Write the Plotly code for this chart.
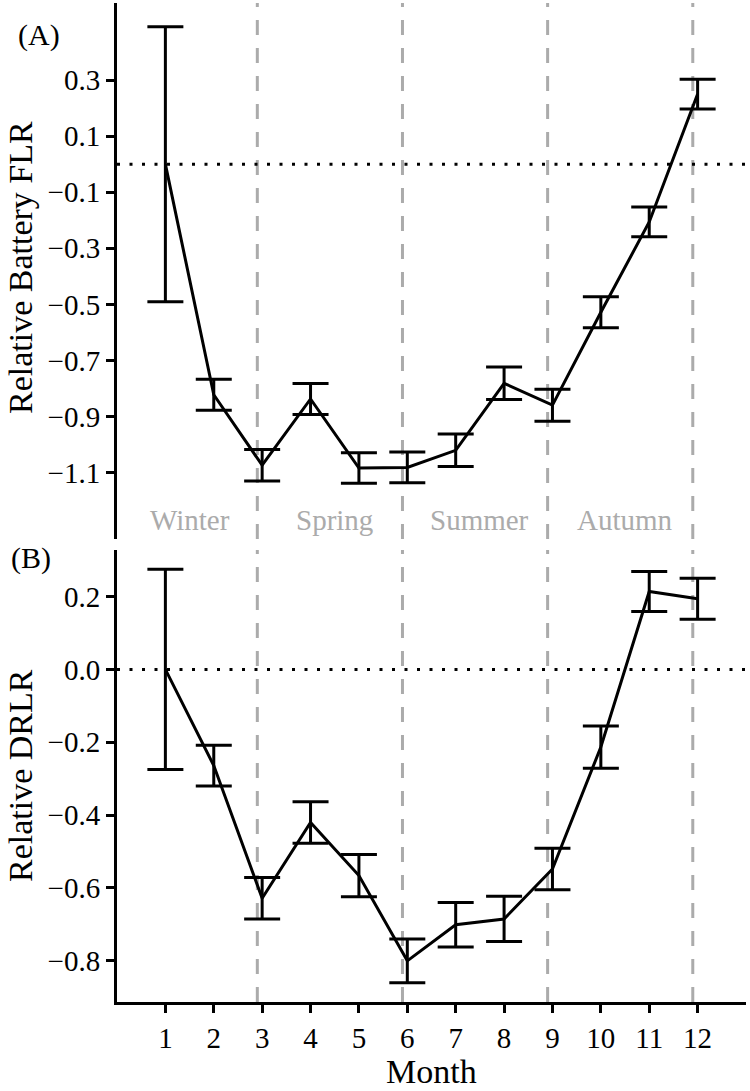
import plotly.graph_objects as go

months = list(range(1, 13))
flr_mean = [0.0, -0.822, -1.073, -0.837, -1.083, -1.081, -1.020, -0.781, -0.859, -0.528, -0.206, 0.250]
flr_err = [0.49, 0.055, 0.056, 0.055, 0.054, 0.055, 0.058, 0.058, 0.057, 0.055, 0.053, 0.053]
drlr_mean = [0.0, -0.264, -0.628, -0.420, -0.566, -0.800, -0.701, -0.685, -0.548, -0.213, 0.214, 0.194]
drlr_err = [0.275, 0.056, 0.057, 0.057, 0.058, 0.060, 0.061, 0.062, 0.057, 0.058, 0.055, 0.056]

flr_ticks = [0.3, 0.1, -0.1, -0.3, -0.5, -0.7, -0.9, -1.1]
drlr_ticks = [0.2, 0.0, -0.2, -0.4, -0.6, -0.8]
season_breaks = [2.9, 5.9, 8.9, 11.9]
season_names = ["Winter", "Spring", "Summer", "Autumn"]
season_pos = [1.5, 4.5, 7.5, 10.5]

FONT = "Liberation Serif"
GRAY = "#ababab"


def fmt(v):
    s = f"{abs(v):.1f}"
    return ("\u2212" + s) if v < -1e-9 else s


fig = go.Figure()
fig.add_trace(go.Scatter(
    x=months, y=flr_mean, mode="lines",
    line=dict(color="black", width=3),
    error_y=dict(type="data", array=flr_err, color="black", thickness=3, width=18),
    xaxis="x2", yaxis="y2", showlegend=False))
fig.add_trace(go.Scatter(
    x=months, y=drlr_mean, mode="lines",
    line=dict(color="black", width=3),
    error_y=dict(type="data", array=drlr_err, color="black", thickness=3, width=18),
    xaxis="x", yaxis="y", showlegend=False))

shapes = []
for xr, yr in (("x", "y"), ("x2", "y2")):
    for b in season_breaks:
        shapes.append(dict(type="line", xref=xr, yref=yr + " domain", x0=b, x1=b, y0=0, y1=1,
                           line=dict(color=GRAY, width=3, dash="15px,13px"), layer="below"))
    shapes.append(dict(type="line", xref=xr + " domain", yref=yr, x0=0.0, x1=1, y0=0, y1=0,
                       line=dict(color="black", width=3, dash="3px,9.5px"), layer="below"))

annotations = []
for name, p in zip(season_names, season_pos):
    annotations.append(dict(x=p, y=-1.269, xref="x2", yref="y2", text=name, showarrow=False,
                            xanchor="center", yanchor="middle",
                            font=dict(family=FONT, size=29, color=GRAY)))

W, H = 750, 1091
L, R, T, B = 117, 4, 3, 89
pw, ph = W - L - R, H - T - B


def px(xp):
    return (xp - L) / pw


def py(yp):
    return (H - B - yp) / ph


def paper_note(text, x, y, size, angle=0):
    return dict(x=px(x), y=py(y), xref="paper", yref="paper", text=text, textangle=angle,
                showarrow=False, xanchor="center", yanchor="middle",
                font=dict(family=FONT, size=size, color="black"))


annotations += [
    paper_note("(A)", 39, 35, 30),
    paper_note("(B)", 31, 558, 30),
    paper_note("Relative Battery FLR", 20, 268, 34, -90),
    paper_note("Relative DRLR", 20, 776, 34, -90),
    paper_note("Month", 431, 1071, 34),
]

axis_common = dict(showgrid=False, zeroline=False, showline=True, linecolor="black", linewidth=3,
                   ticks="outside", ticklen=8, tickwidth=3, tickcolor="black",
                   tickfont=dict(family=FONT, size=29, color="black"))

fig.update_layout(
    width=W, height=H,
    margin=dict(l=L, r=R, t=T, b=B),
    paper_bgcolor="white", plot_bgcolor="white",
    showlegend=False,
    shapes=shapes, annotations=annotations,
    xaxis=dict(domain=[0, 1], range=[0, 13], anchor="y", tickvals=months,
               ticktext=[str(m) for m in months], **axis_common),
    yaxis=dict(domain=[0, 0.4525], range=[-0.913, 0.328], anchor="x", tickvals=drlr_ticks,
               ticktext=[fmt(v) for v in drlr_ticks], **axis_common),
    xaxis2=dict(domain=[0, 1], range=[0, 13], anchor="y2", visible=False),
    yaxis2=dict(domain=[0.4635, 1], range=[-1.336, 0.5745], anchor="x2", tickvals=flr_ticks,
                ticktext=[fmt(v) for v in flr_ticks], **axis_common),
)

fig.write_html("out.html", config={"displayModeBar": False},
               post_script="document.body.style.margin='0px';")
